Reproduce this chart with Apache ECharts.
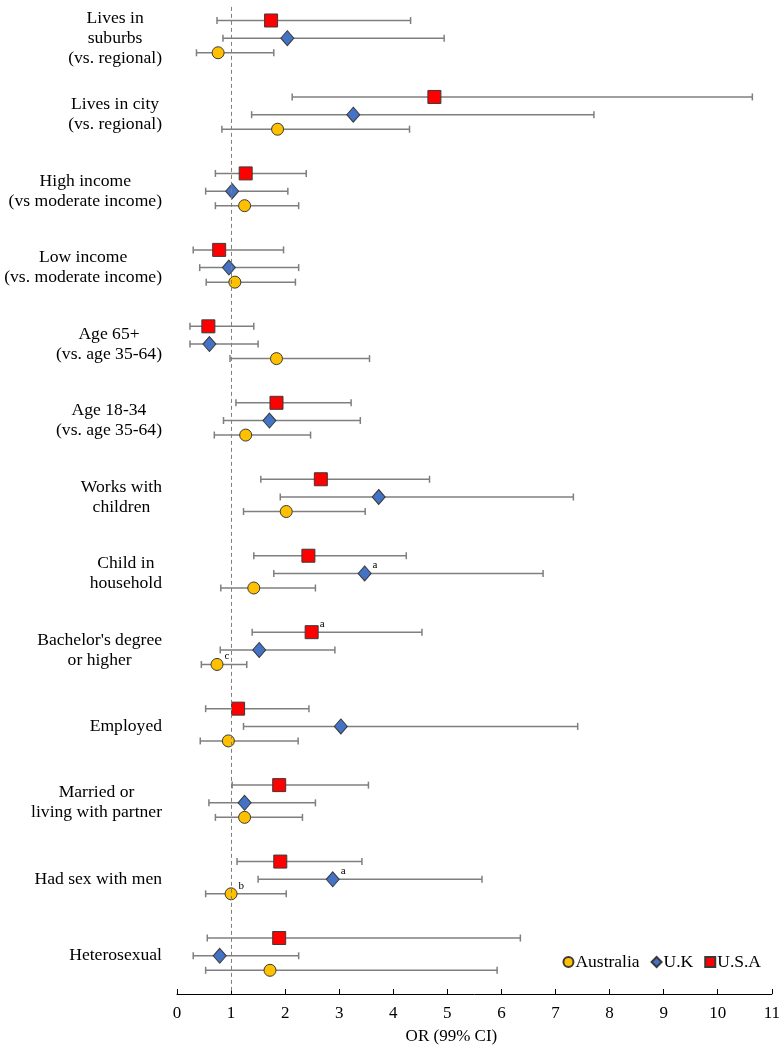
<!DOCTYPE html>
<html lang="en">
<head>
    <meta charset="UTF-8">
    <title>OR by country</title>
    <style>
        body {
            margin: 0;
            padding: 0;
            background-color: #fff;
        }
        #main {
            width: 783px;
            height: 1050px;
        }
    </style>
</head>
<body>
<div id="main"></div>

<script src="https://cdn.jsdelivr.net/npm/echarts@6/dist/echarts.min.js"></script>

<script>
    // row labels, top to bottom
    const categories = [
        'Lives in\nsuburbs\n(vs. regional)',
        'Lives in city\n(vs. regional)',
        'High income\n(vs moderate income)',
        'Low income\n(vs. moderate income)',
        'Age 65+\n(vs. age 35-64)',
        'Age 18-34\n(vs. age 35-64)',
        'Works with\nchildren',
        'Child in\nhousehold',
        "Bachelor's degree\nor higher",
        'Employed',
        'Married or\nliving with partner',
        'Had sex with men',
        'Heterosexual'
    ];

    const usaOR = [1.74, 4.76, 1.27, 0.78, 0.58, 1.84, 2.66, 2.43, 2.49, 1.13, 1.89, 1.91, 1.89];
    const usaLo = [0.74, 2.13, 0.71, 0.30, 0.24, 1.09, 1.55, 1.42, 1.39, 0.53, 1.02, 1.11, 0.56];
    const usaHi = [4.32, 10.64, 2.39, 1.97, 1.42, 3.22, 4.67, 4.24, 4.53, 2.44, 3.54, 3.42, 6.35];
    const usaNotes = ['', '', '', '', '', '', '', '', 'a', '', '', '', ''];

    const ukOR = [2.04, 3.26, 1.02, 0.96, 0.60, 1.71, 3.73, 3.47, 1.52, 3.03, 1.25, 2.88, 0.79];
    const ukLo = [0.85, 1.38, 0.53, 0.42, 0.24, 0.86, 1.91, 1.79, 0.80, 1.23, 0.59, 1.50, 0.30];
    const ukHi = [4.94, 7.71, 2.05, 2.25, 1.50, 3.39, 7.33, 6.77, 2.92, 7.41, 2.56, 5.64, 2.25];
    const ukNotes = ['', '', '', '', '', '', '', 'a', '', '', '', 'a', ''];

    const ausOR = [0.76, 1.86, 1.25, 1.07, 1.84, 1.27, 2.02, 1.42, 0.74, 0.95, 1.25, 1.00, 1.72];
    const ausLo = [0.36, 0.83, 0.71, 0.54, 0.98, 0.69, 1.23, 0.81, 0.45, 0.43, 0.71, 0.53, 0.53];
    const ausHi = [1.79, 4.30, 2.25, 2.19, 3.56, 2.47, 3.48, 2.56, 1.29, 2.24, 2.32, 2.02, 5.92];
    const ausNotes = ['', '', '', '', '', '', '', '', 'c', '', '', 'b', ''];

    const serif = '"Liberation Serif", "Times New Roman", serif';

    // vertical offset of each country row inside its group
    const countries = [
        { name: 'U.S.A', or: usaOR, lo: usaLo, hi: usaHi, notes: usaNotes, shift: -0.232,
          symbol: 'rect', size: 13, color: '#FF0000' },
        { name: 'U.K', or: ukOR, lo: ukLo, hi: ukHi, notes: ukNotes, shift: 0,
          symbol: 'diamond', size: [13, 15], color: '#4472C4' },
        { name: 'Australia', or: ausOR, lo: ausLo, hi: ausHi, notes: ausNotes, shift: 0.19,
          symbol: 'circle', size: 12, color: '#FFC000' }
    ];

    function renderBar(params, api) {
        const y = api.value(2);
        const a = api.coord([api.value(0), y]);
        const b = api.coord([api.value(1), y]);
        const cap = 3.5;
        const style = { stroke: '#7f7f7f', lineWidth: 1.5 };
        return {
            type: 'group',
            children: [
                { type: 'line', shape: { x1: a[0], y1: a[1], x2: b[0], y2: b[1] }, style: style },
                { type: 'line', shape: { x1: a[0], y1: a[1] - cap, x2: a[0], y2: a[1] + cap }, style: style },
                { type: 'line', shape: { x1: b[0], y1: b[1] - cap, x2: b[0], y2: b[1] + cap }, style: style }
            ]
        };
    }

    const series = [];

    countries.forEach(c => {
        series.push({
            name: c.name + ' CI',
            type: 'custom',
            renderItem: renderBar,
            encode: { x: [0, 1], y: 2 },
            data: categories.map((_, i) => [c.lo[i], c.hi[i], i + c.shift]),
            z: 1,
            silent: true
        });
    });

    // reference line at OR = 1
    series.push({
        type: 'line',
        data: [],
        silent: true,
        markLine: {
            symbol: 'none',
            silent: true,
            label: { show: false },
            lineStyle: { color: '#808080', type: [4, 3], width: 1 },
            data: [[{ coord: [1, -0.41] }, { coord: [1, 12.5] }]]
        },
        z: 0
    });

    countries.forEach(c => {
        series.push({
            name: c.name,
            type: 'scatter',
            symbol: c.symbol,
            symbolSize: c.size,
            itemStyle: { color: c.color, borderColor: '#3a3a3a', borderWidth: 1, opacity: 1 },
            data: categories.map((_, i) => [c.or[i], i + c.shift, c.notes[i]]),
            label: {
                show: true,
                position: 'right',
                distance: 1,
                offset: [0, -8],
                fontFamily: serif,
                fontSize: 11,
                color: '#000',
                formatter: p => p.data[2]
            },
            z: 3
        });
    });

    const chart = echarts.init(document.getElementById('main'));

    chart.setOption({
        backgroundColor: '#fff',
        animation: false,
        grid: { left: 177, right: 10, top: -2, bottom: 56 },
        legend: {
            data: [
                { name: 'Australia', icon: 'circle' },
                { name: 'U.K', icon: 'diamond' },
                { name: 'U.S.A', icon: 'rect' }
            ],
            right: 17,
            top: 948,
            itemWidth: 10,
            itemHeight: 10,
            itemGap: 11,
            textStyle: { fontFamily: serif, fontSize: 17.5, color: '#000', padding: [0, 0, 0, -3] }
        },
        xAxis: {
            type: 'value',
            min: 0,
            max: 11,
            interval: 1,
            name: 'OR (99% CI)',
            nameLocation: 'middle',
            nameGap: 34,
            nameTextStyle: { fontFamily: serif, fontSize: 17, color: '#000', padding: [0, 46, 0, 0] },
            axisLine: { onZero: false, lineStyle: { color: '#000', width: 1 } },
            axisTick: { inside: true, length: 5, lineStyle: { color: '#000' } },
            axisLabel: { fontFamily: serif, fontSize: 17, color: '#000', margin: 11 },
            splitLine: { show: false }
        },
        yAxis: [
            {
                type: 'value',
                show: false,
                min: -0.5,
                max: 12.5,
                inverse: true
            },
            {
                type: 'category',
                data: categories,
                inverse: true,
                position: 'left',
                axisLine: { show: false },
                axisTick: { show: false },
                splitLine: { show: false },
                axisLabel: {
                    margin: 15,
                    interval: 0,
                    formatter: v => v.split('\n').map(s => '{c|' + s + '}').join('\n'),
                    rich: {
                        c: { align: 'center', fontFamily: serif, fontSize: 17.6, lineHeight: 20, color: '#000' }
                    }
                }
            }
        ],
        series: series
    });
</script>

</body>
</html>
